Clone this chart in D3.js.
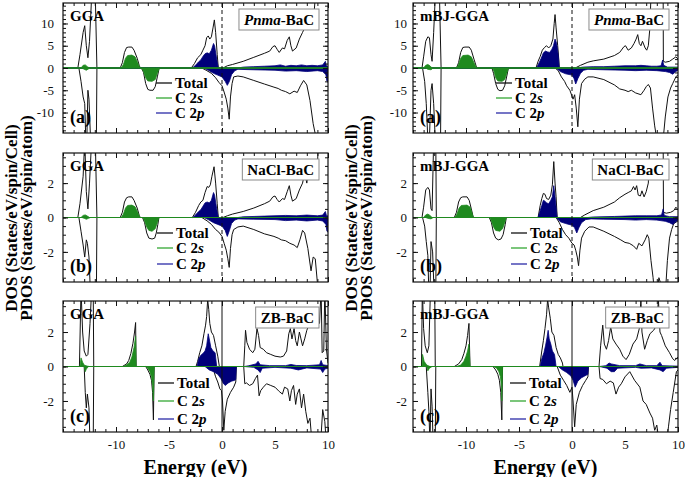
<!DOCTYPE html>
<html><head><meta charset="utf-8">
<script src="https://cdn.jsdelivr.net/npm/d3@7"></script>
<style>
body{margin:0;background:#fff}
svg{display:block}
text{font-family:"Liberation Serif","Times New Roman",serif}
</style>
</head><body>
<svg id="chart" width="685" height="477"></svg>
<script>
// ---------------- DATA (energy eV, DOS) ----------------
const energyDomain = [-15, 10];
const xMajorTicks = [-10, -5, 0, 5, 10];
const methods = ["GGA", "mBJ-GGA"];
const phases = [["Pnma", "-BaC"], ["", "NaCl-BaC"], ["", "ZB-BaC"]];
const tags = ["(a)", "(b)", "(c)"];
const legendLabels = ["Total", "C 2s", "C 2p"];

// Pnma GGA
const pnmaGGA_totUp = [[-15,0],[-13.6,0],[-13.4,3],[-13.1,8],[-12.95,9.5],[-12.8,5],[-12.65,2.3],[-12.5,6],[-12.3,16],[-11.95,16],[-11.8,0],[-9.6,0],[-9.4,1.2],[-9.2,3.5],[-9.0,4.6],[-8.8,4.7],[-8.5,4.7],[-8.3,4.0],[-8.0,2.2],[-7.8,0.5],[-7.7,0],[-2.9,0],[-2.6,1.0],[-2.3,2.3],[-2.0,3.0],[-1.8,4.0],[-1.6,5.0],[-1.45,6.8],[-1.3,7.2],[-1.15,6.5],[-1.0,7.0],[-0.85,9.0],[-0.72,10.8],[-0.6,8],[-0.45,3],[-0.35,0],[0.1,0],[0.5,0.5],[1,0.8],[2,1.5],[3,2.4],[4,3.3],[4.5,3.8],[4.8,4.8],[5.0,5.0],[5.2,4.2],[5.4,3.5],[5.7,4.5],[5.9,4.3],[6.15,6.2],[6.35,7.0],[6.5,5.0],[6.65,3.8],[7.0,4.5],[7.3,6.5],[7.6,8.0],[7.8,9.0],[8.0,10.0],[8.2,8.8],[8.4,10.3],[8.6,9.5],[8.8,16],[10,16]];
const pnmaGGA_totDn = [[-15,0],[-13.5,0],[-13.3,-3],[-13.1,-6.5],[-12.95,-8],[-12.85,-16],[-12.75,-16],[-12.65,-5],[-12.55,-7],[-12.4,-16],[-11.85,-16],[-11.8,0],[-7.6,0],[-7.4,-1.0],[-7.2,-3.5],[-7.0,-4.8],[-6.8,-5.0],[-6.5,-5.0],[-6.3,-4.2],[-6.1,-2.0],[-5.95,-0.3],[-5.9,0],[-1.9,0],[-1.5,-0.5],[-1.0,-1.2],[-0.6,-2.2],[-0.3,-3.2],[0,-4.0],[0.2,-5.4],[0.4,-7.0],[0.55,-9],[0.68,-11.5],[0.8,-6.5],[0.95,-3.5],[1.1,-2.0],[1.5,-1.8],[2.0,-2.0],[3.0,-2.8],[4.0,-3.6],[4.9,-4.3],[5.3,-4.6],[5.6,-5.0],[6.0,-5.3],[6.4,-5.8],[6.8,-5.2],[7.1,-5.5],[7.4,-4],[7.7,-2.8],[8.0,-3.8],[8.3,-7.3],[8.6,-12.5],[8.9,-16],[10,-16]];
const pnmaGGA_sUp = [[-15,0],[-13.3,0],[-13.1,0.6],[-12.9,0.7],[-12.7,0.3],[-12.5,0],[-9.5,0],[-9.3,0.8],[-9.1,2.2],[-8.9,2.8],[-8.5,2.9],[-8.2,2.5],[-7.95,1.2],[-7.75,0],[10,0]];
const pnmaGGA_sDn = [[-15,0],[-13.2,0],[-13.0,-0.3],[-12.8,-0.5],[-12.6,-0.2],[-12.4,0],[-7.6,0],[-7.4,-0.8],[-7.2,-2.2],[-7.0,-2.9],[-6.6,-3.0],[-6.3,-2.6],[-6.1,-1.2],[-5.9,0],[10,0]];
const pnmaGGA_pUp = [[-15,0],[-2.8,0],[-2.5,0.6],[-2.2,1.4],[-2.0,1.8],[-1.8,2.6],[-1.6,3.2],[-1.4,3.4],[-1.2,3.2],[-1.0,4.0],[-0.8,5.5],[-0.7,5.0],[-0.5,2.0],[-0.35,0],[1.5,0],[2,0.2],[3,0.3],[4,0.4],[5,0.5],[5.5,0.7],[6,0.4],[6.5,0.6],[7,0.5],[7.5,0.7],[8,0.5],[8.5,0.6],[9,0.5],[9.5,0.7],[9.75,1.5],[9.85,0.5],[10,0.3]];
const pnmaGGA_pDn = [[-15,0],[-1.7,0],[-1.3,-0.5],[-0.8,-1.2],[-0.4,-1.6],[0,-2.0],[0.3,-3.0],[0.5,-3.9],[0.7,-3.0],[0.9,-1.5],[1.2,-0.6],[1.5,-0.3],[3,-0.4],[5,-0.5],[6,-0.7],[7,-0.6],[8,-0.8],[9,-0.6],[9.5,-0.8],[9.8,-1.5],[9.9,-3.0],[10,-3.2]];

// Pnma mBJ-GGA
const pnmaMBJ_totUp = [[-15,0],[-14.15,0],[-14.0,2.5],[-13.8,6.0],[-13.6,7.0],[-13.45,6.8],[-13.3,3.0],[-13.2,1.5],[-13.05,8],[-12.9,16],[-12.5,16],[-12.35,0],[-10.9,0],[-10.7,1.2],[-10.5,3.5],[-10.3,4.6],[-10.1,4.7],[-9.7,4.7],[-9.5,4.0],[-9.25,2.0],[-9.05,0.5],[-9.0,0],[-3.4,0],[-3.2,1.5],[-3.0,2.6],[-2.8,4.0],[-2.6,4.6],[-2.4,5.0],[-2.2,4.5],[-2.0,5.0],[-1.8,6.5],[-1.68,10],[-1.6,12],[-1.5,9],[-1.35,5],[-1.25,2],[-1.2,0],[0.3,0],[0.8,0.6],[1.5,1.3],[2.0,1.6],[3.0,2.0],[4.0,2.8],[4.5,3.5],[4.9,4.8],[5.05,5.0],[5.3,4.0],[5.6,4.5],[5.85,5.5],[6.05,6.5],[6.2,7.5],[6.35,5.5],[6.5,5.0],[6.65,6.0],[6.9,4.5],[7.05,4.0],[7.2,5.0],[7.33,8.5],[7.45,16],[8.6,16],[8.62,1.5],[8.8,1.3],[9.2,1.5],[9.5,2.0],[9.8,2.5],[10,2.0]];
const pnmaMBJ_totDn = [[-15,0],[-14.1,0],[-13.9,-3],[-13.75,-8],[-13.6,-16],[-13.45,-16],[-13.3,-5],[-13.2,-3.5],[-13.05,-8],[-12.9,-16],[-12.4,-16],[-12.35,0],[-7.55,0],[-7.4,-1.2],[-7.2,-3.5],[-7.0,-4.8],[-6.8,-5.1],[-6.55,-5.0],[-6.35,-4.0],[-6.15,-1.8],[-6.0,0],[-1.6,0],[-1.3,-0.6],[-1.0,-2.0],[-0.7,-3.0],[-0.5,-4.0],[-0.2,-5.0],[0.1,-7.0],[0.25,-6.0],[0.4,-9],[0.55,-13.2],[0.7,-7],[0.9,-3.5],[1.2,-2.5],[1.5,-2.0],[2,-2.0],[3,-2.6],[4,-3.8],[4.5,-4.7],[5.0,-5.0],[5.3,-5.3],[5.6,-5.0],[6.0,-5.6],[6.5,-6.0],[6.8,-5.0],[7.0,-4.2],[7.2,-3.7],[7.4,-4.5],[7.6,-9],[7.8,-13],[8.0,-16],[8.6,-16],[8.8,-11],[9.05,-6.5],[9.3,-4.5],[9.5,-3.5],[9.8,-2],[10,-1.5]];
const pnmaMBJ_sUp = [[-15,0],[-14.0,0],[-13.8,0.6],[-13.6,0.8],[-13.4,0.5],[-13.2,0],[-10.9,0],[-10.7,0.8],[-10.5,2.2],[-10.3,2.8],[-9.8,2.9],[-9.5,2.5],[-9.25,1.2],[-9.0,0],[10,0]];
const pnmaMBJ_sDn = [[-15,0],[-13.8,0],[-13.6,-0.3],[-13.3,-0.4],[-13.1,0],[-7.5,0],[-7.35,-0.8],[-7.2,-2.2],[-7.0,-2.9],[-6.6,-3.0],[-6.35,-2.6],[-6.15,-1.2],[-6.0,0],[10,0]];
const pnmaMBJ_pUp = [[-15,0],[-3.35,0],[-3.1,1.2],[-2.9,2.2],[-2.7,3.4],[-2.5,3.8],[-2.3,3.6],[-2.1,3.5],[-1.9,4.2],[-1.75,5.0],[-1.6,6.5],[-1.45,5.5],[-1.3,3.0],[-1.2,0],[0.5,0],[1,0.2],[2,0.3],[3,0.3],[4,0.4],[5,0.5],[6,0.5],[6.5,0.6],[7,0.5],[7.5,0.4],[8,0.4],[8.4,0.5],[8.55,1.8],[8.65,0.6],[9,0.2],[10,0.2]];
const pnmaMBJ_pDn = [[-15,0],[-1.5,0],[-1.1,-0.8],[-0.6,-1.3],[0,-1.6],[0.2,-2.4],[0.35,-3.6],[0.55,-2.4],[0.8,-1.2],[1.1,-0.5],[1.5,-0.3],[3,-0.4],[5,-0.5],[6,-0.6],[7,-0.5],[8,-0.6],[8.8,-0.8],[9.2,-1.0],[9.5,-1.4],[9.8,-0.8],[10,-0.5]];

// NaCl GGA
const naclGGA_totUp = [[-15,0],[-13.6,0],[-13.4,0.8],[-13.1,2.4],[-12.95,4.5],[-12.8,1.5],[-12.65,0.5],[-12.5,2.0],[-12.3,4.5],[-11.95,4.5],[-11.8,0],[-9.6,0],[-9.4,0.3],[-9.2,0.9],[-9.0,1.15],[-8.8,1.2],[-8.5,1.2],[-8.3,1.0],[-8.0,0.55],[-7.8,0.1],[-7.7,0],[-2.8,0],[-2.5,0.3],[-2.2,0.7],[-2.0,0.9],[-1.8,1.0],[-1.6,1.45],[-1.4,1.8],[-1.25,1.75],[-1.1,1.9],[-0.95,2.4],[-0.75,2.95],[-0.6,2.0],[-0.45,0.8],[-0.35,0],[0.1,0],[0.5,0.1],[1,0.2],[2,0.35],[3,0.55],[4,0.8],[4.5,0.95],[4.8,1.2],[5.0,1.25],[5.2,1.05],[5.4,0.9],[5.7,1.1],[5.9,1.05],[6.15,1.5],[6.35,1.85],[6.5,1.3],[6.65,0.95],[7.0,1.1],[7.3,1.6],[7.6,2.0],[7.8,2.6],[8.0,2.0],[8.2,2.9],[8.4,2.5],[8.6,2.8],[8.8,2.3],[9.0,3.0],[9.1,4.5],[10,4.5]];
const naclGGA_totDn = [[-15,0],[-13.5,0],[-13.3,-0.8],[-13.1,-1.6],[-12.95,-2.3],[-12.8,-1.3],[-12.7,-1.5],[-12.55,-2.3],[-12.4,-4.5],[-11.85,-4.5],[-11.8,0],[-7.5,0],[-7.3,-0.3],[-7.1,-0.9],[-6.9,-1.2],[-6.6,-1.25],[-6.35,-1.2],[-6.2,-0.9],[-6.05,-0.4],[-5.95,0],[-1.9,0],[-1.4,-0.2],[-1.0,-0.4],[-0.6,-0.7],[-0.3,-0.85],[0,-1.1],[0.2,-1.5],[0.4,-1.9],[0.55,-2.4],[0.68,-2.9],[0.8,-1.8],[0.95,-1.0],[1.1,-0.7],[1.5,-0.55],[2,-0.5],[3,-0.7],[4,-0.95],[4.9,-1.1],[5.3,-1.2],[5.6,-1.3],[6.0,-1.35],[6.4,-1.5],[6.8,-1.6],[7.1,-1.75],[7.35,-1.3],[7.6,-0.75],[7.8,-0.9],[8.1,-1.8],[8.4,-3.1],[8.6,-2.3],[8.8,-2.4],[9.0,-3.8],[9.2,-4.5],[10,-4.5]];
const naclGGA_sUp = [[-15,0],[-13.3,0],[-13.1,0.12],[-12.9,0.15],[-12.7,0.08],[-12.5,0],[-9.5,0],[-9.3,0.2],[-9.1,0.55],[-8.9,0.7],[-8.5,0.72],[-8.2,0.62],[-7.95,0.3],[-7.75,0],[10,0]];
const naclGGA_sDn = [[-15,0],[-13.2,0],[-13.0,-0.05],[-12.8,-0.1],[-12.6,-0.05],[-12.4,0],[-7.45,0],[-7.3,-0.2],[-7.1,-0.55],[-6.9,-0.75],[-6.6,-0.8],[-6.3,-0.65],[-6.1,-0.3],[-5.95,0],[10,0]];
const naclGGA_pUp = [[-15,0],[-2.75,0],[-2.5,0.15],[-2.2,0.35],[-2.0,0.45],[-1.8,0.65],[-1.6,0.85],[-1.4,0.9],[-1.2,0.85],[-1.0,1.0],[-0.8,1.45],[-0.7,1.3],[-0.5,0.5],[-0.35,0],[1.5,0],[2,0.04],[4,0.08],[5,0.1],[6,0.12],[7,0.1],[8,0.14],[9,0.1],[9.5,0.14],[9.75,0.35],[9.85,0.12],[10,0.08]];
const naclGGA_pDn = [[-15,0],[-1.7,0],[-1.3,-0.12],[-0.8,-0.3],[-0.4,-0.4],[0,-0.5],[0.3,-0.75],[0.5,-1.1],[0.7,-0.75],[0.9,-0.35],[1.2,-0.15],[1.5,-0.08],[3,-0.1],[5,-0.12],[6,-0.18],[7,-0.15],[8,-0.2],[9,-0.15],[9.5,-0.2],[9.8,-0.4],[9.9,-0.8],[10,-0.85]];

// NaCl mBJ-GGA
const naclMBJ_totUp = [[-15,0],[-14.15,0],[-14.0,0.6],[-13.8,1.6],[-13.6,1.75],[-13.45,1.6],[-13.3,0.5],[-13.2,0.4],[-13.05,4.5],[-12.85,4.5],[-12.8,0],[-11.1,0],[-10.9,0.3],[-10.7,0.9],[-10.5,1.15],[-10.3,1.2],[-9.9,1.2],[-9.7,1.0],[-9.5,0.5],[-9.35,0.1],[-9.3,0],[-3.2,0],[-3.0,0.7],[-2.85,1.1],[-2.7,1.4],[-2.55,1.35],[-2.4,1.1],[-2.2,1.05],[-2.0,1.3],[-1.85,1.9],[-1.72,3.25],[-1.6,2.0],[-1.5,1.2],[-1.4,0],[0.8,0],[1.2,0.15],[2,0.4],[3,0.6],[4,0.9],[4.5,1.15],[5.0,1.35],[5.3,1.45],[5.6,1.55],[5.8,1.8],[5.95,1.6],[6.1,1.85],[6.25,1.3],[6.45,1.25],[6.6,1.55],[6.8,1.2],[7.0,1.5],[7.2,2.0],[7.35,4.5],[8.6,4.5],[8.63,0.3],[8.9,0.25],[9.3,0.3],[9.6,0.4],[9.8,0.6],[10,0.45]];
const naclMBJ_totDn = [[-15,0],[-14.1,0],[-13.9,-0.5],[-13.75,-1.4],[-13.6,-2.2],[-13.5,-4.5],[-13.4,-4.5],[-13.3,-1.4],[-13.15,-2.0],[-13.0,-4.5],[-12.85,-4.5],[-12.8,0],[-7.8,0],[-7.6,-0.3],[-7.4,-0.9],[-7.2,-1.2],[-6.95,-1.3],[-6.7,-1.25],[-6.5,-1.0],[-6.3,-0.4],[-6.2,0],[-1.5,0],[-1.2,-0.3],[-0.9,-0.7],[-0.6,-1.0],[-0.3,-1.2],[0,-1.5],[0.2,-1.6],[0.35,-1.9],[0.5,-2.3],[0.62,-2.8],[0.75,-1.9],[0.9,-1.2],[1.2,-0.8],[1.6,-0.55],[2,-0.55],[3,-0.8],[4,-1.1],[4.6,-1.3],[5.0,-1.45],[5.4,-1.5],[5.8,-1.65],[6.1,-1.85],[6.3,-1.5],[6.6,-1.65],[6.9,-1.3],[7.1,-1.0],[7.25,-1.2],[7.45,-2.5],[7.65,-3.5],[7.8,-4.5],[8.0,-4.5],[8.2,-3.5],[8.35,-3.8],[8.5,-4.5],[8.8,-4.5],[9.0,-2.5],[9.2,-1.2],[9.4,-0.7],[9.6,-0.35],[10,-0.2]];
const naclMBJ_sUp = [[-15,0],[-14.0,0],[-13.8,0.15],[-13.6,0.2],[-13.4,0.12],[-13.2,0],[-11.05,0],[-10.85,0.2],[-10.65,0.55],[-10.45,0.7],[-9.9,0.72],[-9.6,0.6],[-9.45,0.3],[-9.3,0],[10,0]];
const naclMBJ_sDn = [[-15,0],[-13.8,0],[-13.6,-0.05],[-13.3,-0.08],[-13.1,0],[-7.75,0],[-7.6,-0.2],[-7.4,-0.55],[-7.2,-0.75],[-6.8,-0.8],[-6.55,-0.65],[-6.35,-0.3],[-6.2,0],[10,0]];
const naclMBJ_pUp = [[-15,0],[-3.2,0],[-3.0,0.4],[-2.85,0.7],[-2.7,1.0],[-2.55,0.95],[-2.4,0.85],[-2.2,0.8],[-2.0,1.0],[-1.85,1.2],[-1.72,1.85],[-1.6,1.2],[-1.5,0.6],[-1.4,0],[1.5,0],[2,0.03],[4,0.06],[5,0.08],[6,0.1],[7,0.1],[8,0.1],[8.45,0.15],[8.6,0.5],[8.7,0.12],[9.2,0.05],[10,0.05]];
const naclMBJ_pDn = [[-15,0],[-1.5,0],[-1.1,-0.25],[-0.6,-0.35],[0,-0.45],[0.25,-0.6],[0.45,-0.9],[0.65,-0.6],[0.9,-0.3],[1.3,-0.12],[1.8,-0.08],[3,-0.1],[5,-0.12],[6,-0.15],[7,-0.12],[8,-0.15],[8.8,-0.22],[9.2,-0.3],[9.5,-0.4],[9.8,-0.25],[10,-0.15]];

// ZB GGA
const zbGGA_totUp = [[-15,0],[-13.45,0],[-13.3,4.5],[-13.15,2.0],[-13.0,0.9],[-12.8,0.6],[-12.65,0.7],[-12.45,2.5],[-12.3,4.5],[-12.15,4.5],[-12.1,0],[-9.4,0],[-9.0,0.15],[-8.8,0.35],[-8.6,0.75],[-8.4,1.35],[-8.25,2.0],[-8.15,2.55],[-8.1,0],[-2.45,0],[-2.3,0.3],[-2.1,0.8],[-1.9,1.2],[-1.7,1.9],[-1.55,2.4],[-1.45,2.9],[-1.35,3.9],[-1.25,3.3],[-1.15,2.5],[-1.0,2.0],[-0.8,1.8],[-0.6,1.2],[-0.4,0.6],[-0.25,0],[2.05,0],[2.15,1.2],[2.22,2.1],[2.35,1.4],[2.6,1.0],[2.9,0.8],[3.1,1.0],[3.3,2.2],[3.45,1.8],[3.6,1.1],[3.9,1.0],[4.2,0.8],[4.6,0.7],[5.0,0.6],[5.5,0.55],[5.8,0.6],[6.1,0.9],[6.3,1.9],[6.45,2.2],[6.6,1.6],[6.8,2.2],[6.95,1.5],[7.1,1.2],[7.3,2.0],[7.45,1.6],[7.6,1.2],[7.8,1.6],[8.0,2.1],[8.2,2.4],[8.4,2.3],[8.6,2.5],[9.2,2.5],[9.35,4.5],[9.45,0.8],[9.6,0.9],[9.7,4.5],[9.85,1.0],[10,0.2]];
const zbGGA_totDn = [[-15,0],[-13.0,0],[-12.9,-1.5],[-12.8,-2.4],[-12.7,-1.6],[-12.55,-2.4],[-12.45,-4.5],[-12.15,-4.5],[-12.1,0],[-7.2,0],[-7.0,-0.2],[-6.8,-0.45],[-6.65,-0.8],[-6.55,-1.5],[-6.47,-3.1],[-6.4,0],[-0.9,0],[-0.6,-0.6],[-0.4,-0.9],[-0.2,-1.3],[-0.05,-1.4],[0.05,-2.0],[0.17,-3.7],[0.3,-2.6],[0.5,-1.9],[0.8,-1.5],[1.1,-1.2],[1.3,-0.9],[1.35,0],[2.05,0],[2.15,-1.0],[2.3,-0.95],[2.6,-1.1],[2.9,-1.0],[3.15,-0.7],[3.35,-0.5],[3.5,-1.7],[3.65,-1.4],[3.9,-1.2],[4.2,-1.0],[4.6,-1.1],[5.0,-1.2],[5.4,-1.45],[5.7,-1.6],[5.9,-1.2],[6.2,-1.3],[6.4,-2.0],[6.55,-1.4],[6.75,-1.1],[6.95,-2.2],[7.1,-1.6],[7.3,-1.3],[7.5,-2.4],[7.7,-1.6],[7.9,-2.6],[8.1,-3.3],[8.3,-3.0],[8.5,-4.5],[9.3,-4.5],[9.5,-2.5],[9.7,-3.2],[9.85,-4.5],[10,-4.5]];
const zbGGA_sUp = [[-15,0],[-13.4,0],[-13.3,0.5],[-13.15,0.25],[-13.0,0.08],[-12.7,0.02],[-12.5,0],[-9.3,0],[-9.0,0.1],[-8.7,0.25],[-8.5,0.55],[-8.3,1.1],[-8.15,1.75],[-8.1,0],[10,0]];
const zbGGA_sDn = [[-15,0],[-13.0,0],[-12.9,-0.3],[-12.8,-0.15],[-12.6,0],[-7.2,0],[-7.0,-0.1],[-6.8,-0.3],[-6.65,-0.6],[-6.55,-1.1],[-6.47,-2.0],[-6.4,0],[10,0]];
const zbGGA_pUp = [[-15,0],[-2.35,0],[-2.2,0.45],[-2.0,0.65],[-1.8,0.75],[-1.6,0.9],[-1.45,1.2],[-1.3,1.9],[-1.2,1.6],[-1.05,1.1],[-0.85,0.9],[-0.65,0.8],[-0.5,0],[2.1,0],[2.5,0.04],[3.2,0.15],[3.4,0.3],[3.6,0.1],[4.5,0.05],[6.0,0.05],[6.5,0.12],[7.0,0.06],[8,0.05],[9.2,0.1],[9.35,0.35],[9.5,0.1],[10,0.05]];
const zbGGA_pDn = [[-15,0],[-1.6,0],[-1.2,-0.2],[-0.8,-0.3],[-0.4,-0.45],[-0.1,-0.7],[0.1,-0.95],[0.3,-1.1],[0.6,-0.95],[0.9,-0.85],[1.2,-0.8],[1.3,-0.75],[1.35,0],[2.1,0],[3.0,-0.05],[3.4,-0.2],[3.6,-0.35],[3.8,-0.1],[5,-0.05],[6.5,-0.1],[7.2,-0.2],[8,-0.08],[9.3,-0.15],[9.5,-0.35],[9.7,-0.15],[10,-0.1]];

// ZB mBJ-GGA
const zbMBJ_totUp = [[-15,0],[-14.2,0],[-14.12,4.5],[-14.0,2.2],[-13.85,1.2],[-13.65,0.8],[-13.5,1.2],[-13.35,4.5],[-12.95,4.5],[-12.9,0],[-11.1,0],[-10.7,0.15],[-10.4,0.4],[-10.2,0.75],[-10.0,1.2],[-9.85,1.8],[-9.72,2.5],[-9.62,0],[-3.05,0],[-2.85,0.9],[-2.7,1.5],[-2.55,2.2],[-2.4,3.0],[-2.3,3.9],[-2.2,3.4],[-2.05,2.8],[-1.9,2.0],[-1.7,1.8],[-1.5,1.1],[-1.3,0.7],[-1.1,0.5],[-0.9,0.2],[-0.85,0],[2.55,0],[2.7,1.2],[2.9,2.4],[3.05,1.3],[3.25,1.0],[3.45,1.5],[3.65,2.3],[3.85,1.6],[4.15,1.3],[4.5,1.0],[4.8,0.6],[5.1,0.4],[5.4,0.7],[5.75,1.3],[6.1,1.6],[6.35,2.2],[6.5,3.9],[6.6,2.0],[6.85,1.0],[7.1,1.5],[7.35,1.9],[7.7,2.1],[8.0,2.4],[8.15,3.9],[8.3,2.0],[8.45,1.8],[8.8,1.2],[9.2,0.8],[9.5,0.45],[9.7,0.35],[10,0.55]];
const zbMBJ_totDn = [[-15,0],[-13.75,0],[-13.6,-1.5],[-13.5,-2.6],[-13.4,-4.5],[-13.3,-1.3],[-13.2,-2.3],[-13.1,-4.5],[-12.9,-4.5],[-12.85,0],[-7.45,0],[-7.2,-0.2],[-7.0,-0.45],[-6.85,-0.8],[-6.72,-1.5],[-6.62,-3.1],[-6.55,0],[-1.4,0],[-1.1,-0.5],[-0.8,-0.8],[-0.5,-1.1],[-0.2,-1.5],[0.0,-1.2],[0.1,-2.0],[0.25,-3.5],[0.4,-2.2],[0.7,-1.5],[1.0,-1.1],[1.3,-0.8],[1.5,-0.6],[1.55,0],[2.55,0],[2.65,-0.7],[2.9,-0.75],[3.25,-1.0],[3.6,-0.85],[3.9,-0.95],[4.15,-1.6],[4.4,-1.2],[4.65,-1.0],[5.0,-0.6],[5.45,-0.3],[5.9,-0.8],[6.4,-1.2],[6.7,-2.0],[7.0,-2.2],[7.35,-2.7],[7.6,-3.0],[7.8,-3.7],[8.0,-3.4],[8.25,-4.5],[8.9,-4.5],[9.1,-3.5],[9.3,-2.5],[9.55,-1.5],[9.85,-0.3],[10,-0.2]];
const zbMBJ_sUp = [[-15,0],[-14.15,0],[-14.1,0.7],[-13.95,0.3],[-13.7,0.08],[-13.4,0],[-10.9,0],[-10.5,0.08],[-10.2,0.3],[-10.0,0.6],[-9.85,0.9],[-9.72,1.3],[-9.62,0],[10,0]];
const zbMBJ_sDn = [[-15,0],[-13.7,0],[-13.6,-0.25],[-13.45,-0.1],[-13.2,0],[-7.4,0],[-7.1,-0.1],[-6.9,-0.3],[-6.75,-0.6],[-6.65,-1.2],[-6.62,-2.0],[-6.55,0],[10,0]];
const zbMBJ_pUp = [[-15,0],[-3.0,0],[-2.85,0.45],[-2.65,0.8],[-2.5,1.2],[-2.35,1.7],[-2.25,2.1],[-2.15,1.6],[-2.0,1.3],[-1.85,0.9],[-1.65,0.7],[-1.5,0],[2.6,0],[3.2,0.05],[3.5,0.2],[3.7,0.15],[4.5,0.05],[6,0.05],[6.4,0.15],[7,0.05],[8,0.05],[8.3,0.25],[8.5,0.05],[10,0.02]];
const zbMBJ_pDn = [[-15,0],[-1.3,0],[-0.9,-0.2],[-0.5,-0.35],[-0.1,-0.55],[0.1,-0.8],[0.3,-1.2],[0.55,-0.85],[0.9,-0.65],[1.2,-0.55],[1.5,-0.45],[1.55,0],[2.6,0],[3.3,-0.1],[3.7,-0.3],[4.0,-0.3],[4.3,-0.1],[6,-0.05],[6.5,-0.1],[7.5,-0.08],[8.3,-0.2],[8.6,-0.3],[8.9,-0.1],[10,-0.05]];

// ---------------- LAYOUT ----------------
const colX = [[63, 328], [413, 678]];
const rowY = [[3, 133], [153, 282], [301, 432]];
const yDomains = [[-14.6, 14.6], [-3.75, 3.75], [-3.8, 3.8]];
const yMajor = [[-10, -5, 0, 5, 10], [-2, 0, 2], [-2, 0, 2]];
const yMinorStep = [1, 0.5, 0.5];

const series = [
  [[pnmaGGA_totUp, pnmaGGA_totDn, pnmaGGA_sUp, pnmaGGA_sDn, pnmaGGA_pUp, pnmaGGA_pDn],
   [pnmaMBJ_totUp, pnmaMBJ_totDn, pnmaMBJ_sUp, pnmaMBJ_sDn, pnmaMBJ_pUp, pnmaMBJ_pDn]],
  [[naclGGA_totUp, naclGGA_totDn, naclGGA_sUp, naclGGA_sDn, naclGGA_pUp, naclGGA_pDn],
   [naclMBJ_totUp, naclMBJ_totDn, naclMBJ_sUp, naclMBJ_sDn, naclMBJ_pUp, naclMBJ_pDn]],
  [[zbGGA_totUp, zbGGA_totDn, zbGGA_sUp, zbGGA_sDn, zbGGA_pUp, zbGGA_pDn],
   [zbMBJ_totUp, zbMBJ_totDn, zbMBJ_sUp, zbMBJ_sDn, zbMBJ_pUp, zbMBJ_pDn]]
];

const legendPos = [
  [{x: 156, ys: [83, 98, 113]}, {x: 496, ys: [83, 98, 113]}],
  [{x: 157, ys: [233, 248, 264]}, {x: 511, ys: [233, 248, 264]}],
  [{x: 158, ys: [383, 401, 419]}, {x: 510, ys: [383, 401, 419]}]
];

const GREEN = "#1f8a1f", BLUE = "#00007a";
const LEG_GREEN = "#33a833", LEG_BLUE = "#2a2aa8";
const SERIF = "'Liberation Serif','Times New Roman',serif";

const svg = d3.select("#chart");

for (let r = 0; r < 3; r++) {
  for (let c = 0; c < 2; c++) {
    const [x0, x1] = colX[c], [y0, y1] = rowY[r];
    const x = d3.scaleLinear().domain(energyDomain).range([x0, x1]);
    const y = d3.scaleLinear().domain(yDomains[r]).range([y1, y0]);
    const id = `clip${r}${c}`;
    svg.append("clipPath").attr("id", id).append("rect")
      .attr("x", x0).attr("y", y0).attr("width", x1 - x0).attr("height", y1 - y0);
    const g = svg.append("g").attr("clip-path", `url(#${id})`);
    const [tUp, tDn, sUp, sDn, pUp, pDn] = series[r][c];
    const line = d3.line().x(d => x(d[0])).y(d => y(d[1]));
    const area = d3.area().x(d => x(d[0])).y0(y(0)).y1(d => y(d[1]));

    [tUp, tDn].forEach(d => g.append("path").datum(d).attr("d", line)
      .attr("fill", "none").attr("stroke", "#111").attr("stroke-width", 1));
    [pUp, pDn].forEach(d => g.append("path").datum(d).attr("d", area)
      .attr("fill", BLUE).attr("stroke", BLUE).attr("stroke-width", 0.8));
    [sUp, sDn].forEach(d => g.append("path").datum(d).attr("d", area)
      .attr("fill", GREEN).attr("stroke", GREEN).attr("stroke-width", 0.8));
    g.append("line").attr("x1", x(0)).attr("x2", x(0)).attr("y1", y0).attr("y2", y1)
      .attr("stroke", "#111").attr("stroke-width", 1)
      .attr("stroke-dasharray", r < 2 ? "4,3" : null);

    const minorX = d3.range(-15, 10.001, 1);
    const ymn = yDomains[r][0], ymx = yDomains[r][1];
    const st = yMinorStep[r];
    const minorY = d3.range(Math.ceil(ymn / st) * st, ymx + 1e-9, st);
    const ax = (gen, tx, ty) => svg.append("g").attr("transform", `translate(${tx},${ty})`).call(gen)
      .attr("font-family", SERIF)
      .call(s => s.select(".domain").remove())
      .call(s => s.selectAll("line").attr("stroke", "#111"));
    const fmt = d => String(d);
    ax(d3.axisBottom(x).tickValues(minorX).tickSize(-3).tickFormat(""), 0, y1);
    ax(d3.axisTop(x).tickValues(minorX).tickSize(-3).tickFormat(""), 0, y0);
    ax(d3.axisTop(x).tickValues(xMajorTicks).tickSize(-5).tickFormat(""), 0, y0);
    const bx = ax(d3.axisBottom(x).tickValues(xMajorTicks).tickSize(-5).tickPadding(8)
      .tickFormat(r === 2 ? fmt : ""), 0, y1);
    bx.attr("font-size", 13);
    bx.selectAll("text").attr("fill", "#111");
    ax(d3.axisLeft(y).tickValues(minorY).tickSize(-3).tickFormat(""), x0, 0);
    ax(d3.axisRight(y).tickValues(minorY).tickSize(-3).tickFormat(""), x1, 0);
    ax(d3.axisRight(y).tickValues(yMajor[r]).tickSize(-5).tickFormat(""), x1, 0);
    const ly = ax(d3.axisLeft(y).tickValues(yMajor[r]).tickSize(-5).tickPadding(c === 0 ? 9 : 6).tickFormat(fmt), x0, 0);
    ly.attr("font-size", 13);
    ly.selectAll("text").attr("fill", "#111");

    svg.append("rect").attr("x", x0).attr("y", y0).attr("width", x1 - x0).attr("height", y1 - y0)
      .attr("fill", "none").attr("stroke", "#111").attr("stroke-width", 1.2);

    svg.append("text").attr("x", x0 + 7).attr("y", y0 + 18).attr("font-size", 15)
      .attr("font-weight", "bold").text(methods[c]);
    svg.append("text").attr("x", x0 + 7).attr("y", y1 - 10).attr("font-size", 18)
      .attr("font-weight", "bold").text(tags[r]);

    // phase label box
    const boxRect = svg.append("rect");
    const bt = svg.append("text").attr("y", y0 + 22).attr("font-size", 15)
      .attr("font-weight", "bold").attr("text-anchor", "end").attr("x", x1 - 14);
    if (phases[r][0]) bt.append("tspan").attr("font-style", "italic").text(phases[r][0]);
    bt.append("tspan").text(phases[r][1]);
    const bb = bt.node().getBBox();
    boxRect.attr("x", bb.x - 5).attr("y", y0 + 6).attr("width", bb.width + 10).attr("height", 21)
      .attr("fill", "#fff").attr("stroke", "#8a8a8a").attr("stroke-width", 1);

    // legend
    const lp = legendPos[r][c];
    const lcol = ["#111", LEG_GREEN, LEG_BLUE];
    legendLabels.forEach((lab, i) => {
      svg.append("line").attr("x1", lp.x).attr("x2", lp.x + 16).attr("y1", lp.ys[i]).attr("y2", lp.ys[i])
        .attr("stroke", lcol[i]).attr("stroke-width", 1.3);
      const t = svg.append("text").attr("x", lp.x + 19).attr("y", lp.ys[i] + 5)
        .attr("font-size", 15).attr("font-weight", "bold");
      if (i === 0) t.text(lab);
      else {
        t.append("tspan").text(lab.slice(0, -1));
        t.append("tspan").attr("font-style", "italic").text(lab.slice(-1));
      }
    });
  }
}

[0, 1].forEach(c => {
  const [x0, x1] = colX[c];
  svg.append("text").attr("x", (x0 + x1) / 2).attr("y", 474).attr("text-anchor", "middle")
    .attr("font-size", 20).attr("font-weight", "bold").text("Energy (eV)");
  const bx = c === 0 ? [17, 32] : [357, 372];
  svg.append("text").attr("transform", `translate(${bx[0]},218) rotate(-90)`).attr("text-anchor", "middle")
    .attr("font-size", 17).attr("font-weight", "bold").text("DOS (States/eV/spin/Cell)");
  svg.append("text").attr("transform", `translate(${bx[1]},218) rotate(-90)`).attr("text-anchor", "middle")
    .attr("font-size", 17).attr("font-weight", "bold").text("PDOS (States/eV/spin/atom)");
});
</script>
</body></html>
